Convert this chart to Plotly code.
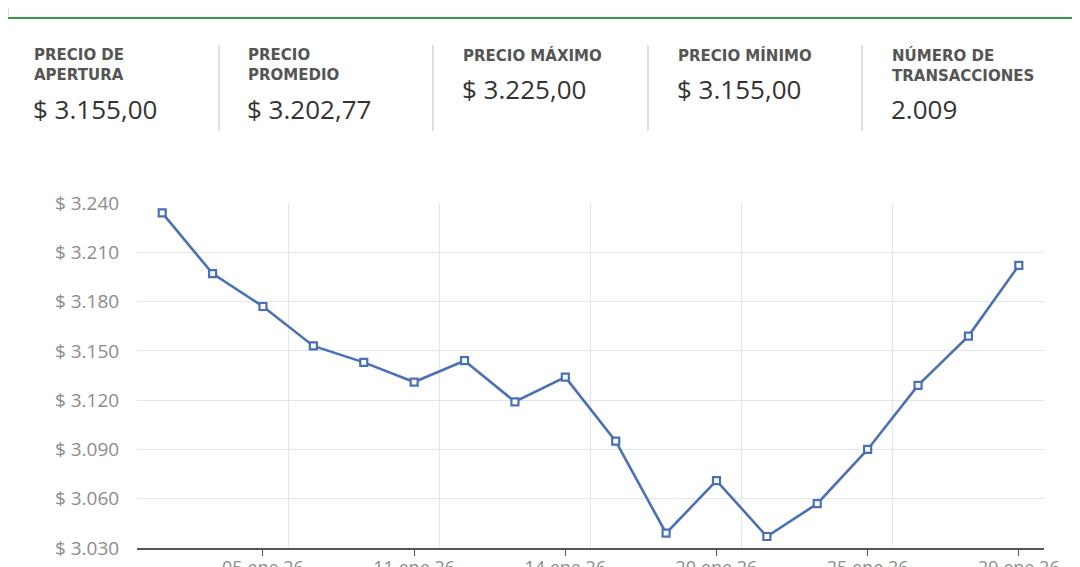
import plotly.graph_objects as go

# ---- data ----
dates = ["02 ene 26", "03 ene 26", "05 ene 26", "07 ene 26", "09 ene 26", "11 ene 26",
         "12 ene 26", "13 ene 26", "14 ene 26", "16 ene 26", "18 ene 26", "20 ene 26",
         "21 ene 26", "23 ene 26", "25 ene 26", "26 ene 26", "28 ene 26", "29 ene 26"]
prices = [3234, 3197, 3177, 3153, 3143, 3131, 3144, 3119, 3134, 3095,
          3039, 3071, 3037, 3057, 3090, 3129, 3159, 3202]

y_ticks = [3030, 3060, 3090, 3120, 3150, 3180, 3210, 3240]
y_tick_text = ["$ 3.030", "$ 3.060", "$ 3.090", "$ 3.120", "$ 3.150", "$ 3.180", "$ 3.210", "$ 3.240"]

stat_labels = ["PRECIO DE<br>APERTURA", "PRECIO<br>PROMEDIO", "PRECIO MÁXIMO", "PRECIO MÍNIMO",
               "NÚMERO DE<br>TRANSACCIONES"]
stat_values = ["$ 3.155,00", "$ 3.202,77", "$ 3.225,00", "$ 3.155,00", "2.009"]
stat_lines = [2, 2, 1, 1, 2]

W, H = 1080, 567
OX, OY = 8, 8  # page body margin offset compensation
idx = list(range(len(dates)))
tick_idx = idx[2::3]

def px(x):
    return (x - OX) / W

def py(y):
    return 1 - (y - OY) / H

fig = go.Figure()
fig.add_trace(go.Scatter(
    x=idx, y=prices, mode="lines+markers",
    line=dict(color="#4a70b5", width=2.6),
    marker=dict(symbol="square", size=7, color="white",
                line=dict(color="#4a70b5", width=2.2)),
    text=dates, hovertemplate="%{text}<br>$ %{y}<extra></extra>",
    showlegend=False, cliponaxis=False,
))

font_main = "Open Sans, Lato, sans-serif"
font_label = "DejaVu Sans, sans-serif"

annotations = []
col_x = [32, 246, 461, 676, 890]
for i, (lab, val, nl) in enumerate(zip(stat_labels, stat_values, stat_lines)):
    annotations.append(dict(
        x=px(col_x[i]), y=py(44), xref="paper", yref="paper",
        xanchor="left", yanchor="top", align="left", showarrow=False,
        text="<b>" + lab + "</b>",
        font=dict(family=font_label, size=15, color="#555555"),
    ))
    vy = 89 if nl == 2 else 69
    annotations.append(dict(
        x=px(col_x[i] - 1), y=py(vy), xref="paper", yref="paper",
        xanchor="left", yanchor="top", align="left", showarrow=False,
        text=val,
        font=dict(family=font_main, size=26, color="#333333"),
    ))

shapes = []
# green frame (top cut off)
shapes.append(dict(type="line", xref="paper", yref="paper",
                   x0=px(7), x1=px(7), y0=py(-5), y1=py(18),
                   line=dict(color="#3a9a4a", width=2.5)))
shapes.append(dict(type="line", xref="paper", yref="paper",
                   x0=px(6), x1=px(1077), y0=py(18), y1=py(18),
                   line=dict(color="#3a9a4a", width=2)))
for sx in [219, 433, 648, 862]:
    shapes.append(dict(type="line", xref="paper", yref="paper",
                       x0=px(sx), x1=px(sx), y0=py(45), y1=py(131),
                       line=dict(color="#c9c9dc", width=1.2)))

fig.update_layout(
    width=W, height=H, autosize=False,
    margin=dict(l=0, r=0, t=0, b=0, pad=0),
    paper_bgcolor="white", plot_bgcolor="white",
    annotations=annotations, shapes=shapes,
    font=dict(family=font_main),
    xaxis=dict(
        domain=[px(137), px(1044)],
        range=[-0.5, 17.5], automargin=False,
        tickmode="array", tickvals=tick_idx, ticktext=[dates[i] for i in tick_idx],
        showgrid=False, zeroline=False,
        showline=True, linecolor="#555555", linewidth=1.5,
        ticks="outside", ticklen=6, tickcolor="#555555", tickwidth=1.2,
        ticklabelstandoff=-3,
        tickfont=dict(family=font_main, size=18, color="#8c8c8c"),
        minor=dict(tick0=-0.5, dtick=3, showgrid=True, gridcolor="#dfe6f0", gridwidth=1),
        fixedrange=True,
    ),
    yaxis=dict(
        domain=[py(548), py(203)],
        range=[3030, 3240], automargin=False,
        tickmode="array", tickvals=y_ticks, ticktext=y_tick_text,
        showgrid=True, gridcolor="#dfe6f0", gridwidth=1,
        zeroline=False, showline=False,
        ticks="outside", ticklen=13, tickcolor="rgba(0,0,0,0)",
        tickfont=dict(family=font_main, size=19, color="#8c8c8c"),
        fixedrange=True,
    ),
)

fig.write_html("out.html")
